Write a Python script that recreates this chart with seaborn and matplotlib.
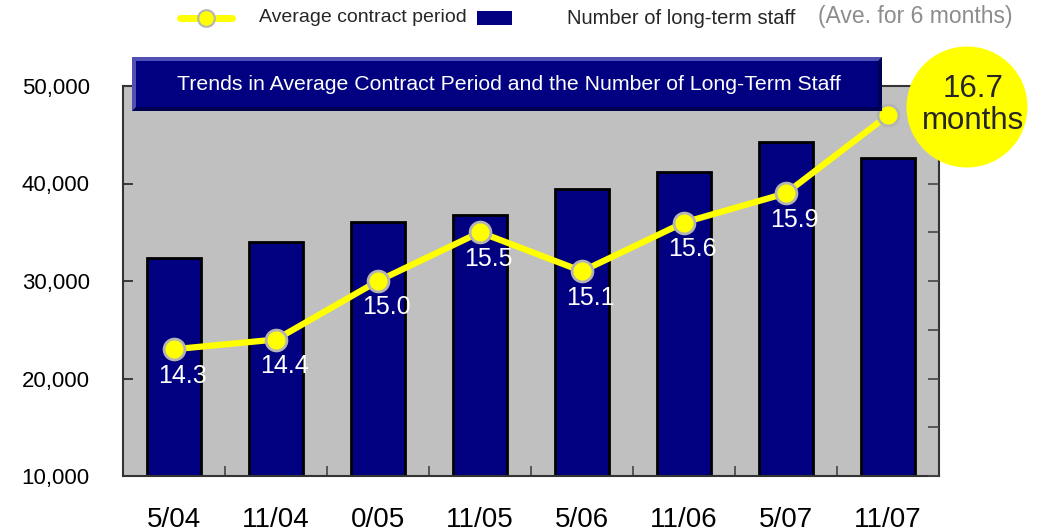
import matplotlib
matplotlib.use("Agg")
import matplotlib.pyplot as plt
import seaborn as sns
from matplotlib.lines import Line2D
from matplotlib.patches import Rectangle, Polygon, Ellipse
from matplotlib.ticker import FuncFormatter, MultipleLocator

# Data
periods = ["5/04", "11/04", "0/05", "11/05", "5/06", "11/06", "5/07", "11/07"]
staff = [32400, 34000, 36100, 36800, 39400, 41200, 44300, 42600]
months = [14.3, 14.4, 15.0, 15.5, 15.1, 15.6, 15.9, 16.7]

title = "Trends in Average Contract Period and the Number of Long-Term Staff"

sns.set_theme(style="white")
plt.rcParams["font.family"] = ["Liberation Sans", "DejaVu Sans"]

W, H = 1048, 531
fig = plt.figure(figsize=(W / 100, H / 100), dpi=100)
ax = fig.add_axes([123 / W, 1 - 476 / H, (939 - 123) / W, (476 - 86) / H])
ax.set_facecolor("#C0C0C0")

# Bars - number of long-term staff
sns.barplot(x=periods, y=staff, color="#000080", saturation=1,
            edgecolor="black", linewidth=2, width=0.53, ax=ax)
ax.set_ylim(10000, 50000)
ax.set_xlim(-0.5, len(periods) - 0.5)
ax.yaxis.set_major_locator(MultipleLocator(10000))
ax.yaxis.set_major_formatter(FuncFormatter(lambda v, p: f"{int(v):,}"))
ax.tick_params(axis="y", direction="in", length=7, width=1.2, color="#222222",
               pad=24, labelsize=16, labelcolor="black")
ax.tick_params(axis="x", which="major", length=0, pad=22, labelsize=20,
               labelcolor="black")
ax.xaxis.set_minor_locator(MultipleLocator(1, offset=0.5))
ax.tick_params(axis="x", which="minor", direction="in", length=7, width=1.2,
               color="#444444", bottom=True)
ax.set_xlabel("")
ax.set_ylabel("")
for s in ax.spines.values():
    s.set_color("#333333")
    s.set_linewidth(1.5)

# Line - average contract period
ax2 = ax.twinx()
sns.pointplot(x=periods, y=months, ax=ax2, color="#FFFF00", markers="o",
              errorbar=None, markersize=15, markeredgecolor="#B4B4B4",
              markeredgewidth=2, linewidth=4.5)
ax2.set_ylim(13, 17)
ax2.set_xlim(-0.5, len(periods) - 0.5)
ax2.yaxis.set_major_locator(MultipleLocator(0.5))
ax2.tick_params(axis="y", direction="in", length=8, width=1.2,
                color="#444444", labelright=False)
ax2.set_xlabel("")
ax2.set_ylabel("")
for s in ax2.spines.values():
    s.set_visible(False)

for i, v in enumerate(months[:-1]):
    ax2.annotate(f"{v:.1f}", xy=(i, v), xytext=(6, -19),
                 textcoords="offset points", ha="center", va="center",
                 color="white", fontsize=18)

# Title box with bevel
x0, x1 = 132 / W, 882 / W
y0, y1 = 1 - 111 / H, 1 - 57 / H
bx, by = 4 / W, 4 / H
fig.add_artist(Rectangle((x0, y0), x1 - x0, y1 - y0, transform=fig.transFigure,
                         facecolor="#5050B4", edgecolor="none", zorder=3))
fig.add_artist(Polygon([(x1, y1), (x1, y0), (x0, y0), (x0 + bx, y0 + by),
                        (x1 - bx, y0 + by), (x1 - bx, y1 - by)],
                       closed=True, transform=fig.transFigure,
                       facecolor="#000050", edgecolor="none", zorder=3))
fig.add_artist(Rectangle((x0 + bx, y0 + by), x1 - x0 - 2 * bx, y1 - y0 - 2 * by,
                         transform=fig.transFigure, facecolor="#000080",
                         edgecolor="none", zorder=3))
fig.text((x0 + x1) / 2 + 2 / W, (y0 + y1) / 2, title, ha="center", va="center",
         color="white", fontsize=15.3, zorder=4)

# Big callout circle
fig.add_artist(Ellipse((967 / W, 1 - 107 / H), 121 / W, 121 / H,
                       transform=fig.transFigure, facecolor="#FFFF00",
                       edgecolor="none", zorder=3))
fig.text(973 / W, 1 - 105 / H, f"{months[-1]:.1f}\nmonths", ha="center",
         va="center", fontsize=22.5, linespacing=1.05, zorder=4)

# Legend (drawn by hand to match spacing)
ly = 1 - 18 / H
fig.add_artist(Line2D([180 / W, 232 / W], [ly, ly], transform=fig.transFigure,
                      color="#FFFF00", lw=5))
fig.add_artist(Line2D([206 / W], [ly], transform=fig.transFigure, marker="o",
                      markersize=12, markerfacecolor="#FFFF00",
                      markeredgecolor="#B4B4B4", markeredgewidth=1.5))
fig.text(259 / W, ly, "Average contract period", ha="left", va="center",
         fontsize=14)
fig.add_artist(Rectangle((477 / W, 1 - 25 / H), 35 / W, 14 / H,
                         transform=fig.transFigure, facecolor="#000080",
                         edgecolor="none"))
fig.text(567 / W, ly, "Number of long-term staff", ha="left", va="center",
         fontsize=14.5)
fig.text(818 / W, 1 - 17 / H, "(Ave. for 6 months)", ha="left", va="center",
         color="#8C8C8C", fontsize=16.5)

plt.savefig("out.png", dpi=100)
